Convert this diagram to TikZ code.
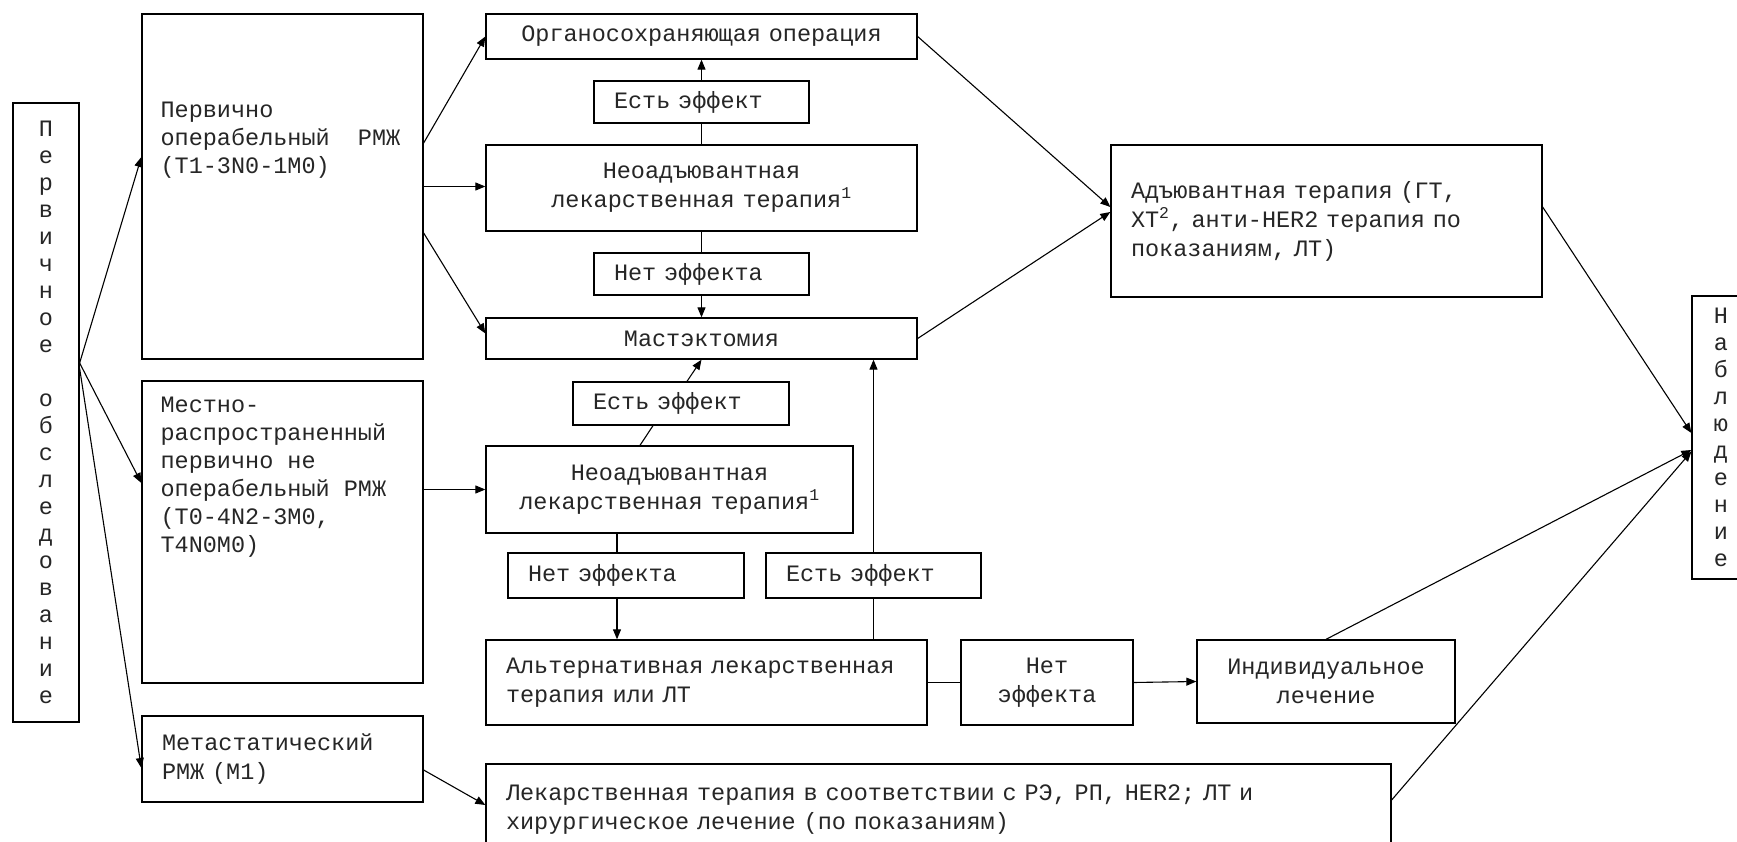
\documentclass[tikz,border=0pt]{standalone}
\usepackage{fontspec}
\newfontfamily\courfont{Liberation Mono}
\usetikzlibrary{positioning,arrows.meta,calc}

\begin{document}
\begin{tikzpicture}[x=1pt, y=-1pt,
  box/.style={draw, line width=1.3pt, inner xsep=20pt, inner ysep=0pt, text=black!85, font=\courfont\fontsize{23.5}{29}\selectfont},
  lbox/.style={box, align=left},
  cbox/.style={box, align=center},
  letters/.style={box, inner xsep=0pt, align=center, font=\courfont\fontsize{23.5}{27}\selectfont},
  txt/.style={inner sep=0pt, align=left, text=black!85, font=\courfont\fontsize{23.5}{28}\selectfont},
  arr/.style={-{Triangle[length=10pt,width=8pt]}, line width=1.1pt},
  ln/.style={line width=1.1pt}
]
\path[use as bounding box, fill=white] (0,0) rectangle (1737,842);

\node[letters, minimum width=66pt, minimum height=619pt] (obs) at (46,412.5) {П\\е\\р\\в\\и\\ч\\н\\о\\е\\[27pt]о\\б\\с\\л\\е\\д\\о\\в\\а\\н\\и\\е};
\node[box, minimum width=281pt, minimum height=345pt] (op) at (282.5,186.5) {};
\node[txt, anchor=north west] (opt) at ($(op.north west)+(19,88)$) {Первично\\операбельный~~РМЖ\\(T1-3N0-1M0)};
\node[box, minimum width=281pt, minimum height=302pt] (loc) at (282.5,532) {};
\node[txt, anchor=north west] (loct) at ($(loc.north west)+(19,16)$) {Местно-\\распространенный\\первично не\\операбельный РМЖ\\(T0-4N2-3M0,\\T4N0M0)};
\node[lbox, minimum width=281pt, minimum height=86pt, text width=241pt] (met) at (282.5,759) {Метастатический\\РМЖ (M1)};

\node[cbox, minimum width=431pt, minimum height=45pt, text width=391pt] (bcs) at (701.5,36.5) {Органосохраняющая операция};
\node[lbox, minimum width=215pt, minimum height=42pt, text width=175pt] (eff1) at (701.5,102) {Есть эффект};
\node[cbox, minimum width=431pt, minimum height=86pt, text width=391pt] (neo1) at (701.5,188) {Неоадъювантная\\лекарственная терапия\textsuperscript{1}};
\node[lbox, minimum width=215pt, minimum height=42pt, text width=175pt] (no1) at (701.5,274) {Нет эффекта};
\node[cbox, minimum width=431pt, minimum height=41pt, text width=391pt] (mast) at (701.5,338.5) {Мастэктомия};
\node[lbox, minimum width=216pt, minimum height=43pt, text width=176pt] (eff2) at (681,403.5) {Есть эффект};
\node[cbox, minimum width=367pt, minimum height=87pt, text width=327pt] (neo2) at (669.5,489.5) {Неоадъювантная\\лекарственная терапия\textsuperscript{1}};
\node[lbox, minimum width=236pt, minimum height=45pt, text width=196pt] (no2) at (626,575.5) {Нет эффекта};
\node[lbox, minimum width=215pt, minimum height=45pt, text width=175pt] (eff3) at (873.5,575.5) {Есть эффект};
\node[lbox, minimum width=441pt, minimum height=85pt, text width=401pt] (alt) at (706.5,682.5) {Альтернативная лекарственная\\терапия или ЛТ};
\node[cbox, minimum width=172pt, minimum height=85pt, text width=132pt] (no3) at (1047,682.5) {Нет\\эффекта};
\node[cbox, minimum width=258pt, minimum height=83pt, text width=218pt] (ind) at (1326,681.5) {Индивидуальное\\лечение};
\node[lbox, minimum width=905pt, minimum height=91pt, text width=865pt] (drug) at (938.5,809.5) {Лекарственная терапия в соответствии с РЭ, РП, HER2; ЛТ и\\хирургическое лечение (по показаниям)};
\node[lbox, minimum width=431pt, minimum height=152pt, text width=391pt] (adj) at (1326.5,221) {Адъювантная терапия (ГТ,\\ХТ\textsuperscript{2}, анти-HER2 терапия по\\показаниям, ЛТ)};
\node[letters, minimum width=58pt, minimum height=283pt] (obsv) at (1721,437.5) {Н\\а\\б\\л\\ю\\д\\е\\н\\и\\е};

\draw[arr] ([yshift=49.5pt]obs.east) -- ([yshift=29.5pt]op.west);
\draw[arr] ([yshift=49.5pt]obs.east) -- ([yshift=49pt]loc.west);
\draw[arr] ([yshift=44pt]obs.east) -- ([yshift=-9pt]met.west);
\draw[arr] ([yshift=43.5pt]op.east) -- (bcs.west);
\draw[arr] (op.east) -- (op.east -| neo1.west);
\draw[arr] ([yshift=-46.5pt]op.east) -- ([yshift=5pt]mast.west);
\draw[arr] (eff1.north) -- (bcs.south);
\draw[ln] (neo1.north) -- (eff1.south);
\draw[ln] (neo1.south) -- (no1.north);
\draw[arr] (no1.south) -- (mast.north);
\draw[arr] (bcs.east) -- ([yshift=14pt]adj.west);
\draw[arr] (mast.east) -- ([yshift=9pt]adj.west);
\draw[arr] ([yshift=14pt]adj.east) -- ([yshift=4.5pt]obsv.west);
\draw[arr] (loc.east |- neo2.west) -- (neo2.west);
\draw[ln] ([xshift=-29.5pt]neo2.north) -- ([xshift=-28pt]eff2.south);
\draw[arr] ([xshift=6pt]eff2.north) -- (mast.south);
\draw[ln] ([xshift=-9pt]no2.north) -- ([xshift=-9pt]no2.north |- neo2.south);
\draw[arr] ([xshift=-9pt]no2.south) -- ([xshift=-9pt]no2.south |- alt.north);
\draw[ln] (eff3.south) -- (eff3.south |- alt.north);
\draw[arr] (eff3.north) -- (eff3.north |- mast.south);
\draw[ln] (alt.east) -- (no3.west);
\draw[arr] (no3.east) -- (ind.west);
\draw[arr] (ind.north) -- ([yshift=-12.5pt]obsv.west);
\draw[arr] ([yshift=9.5pt]drug.east) -- ([yshift=-14pt]obsv.west);
\draw[arr] ([yshift=-11pt]met.east) -- ([yshift=4.5pt]drug.west);
\end{tikzpicture}
\end{document}
